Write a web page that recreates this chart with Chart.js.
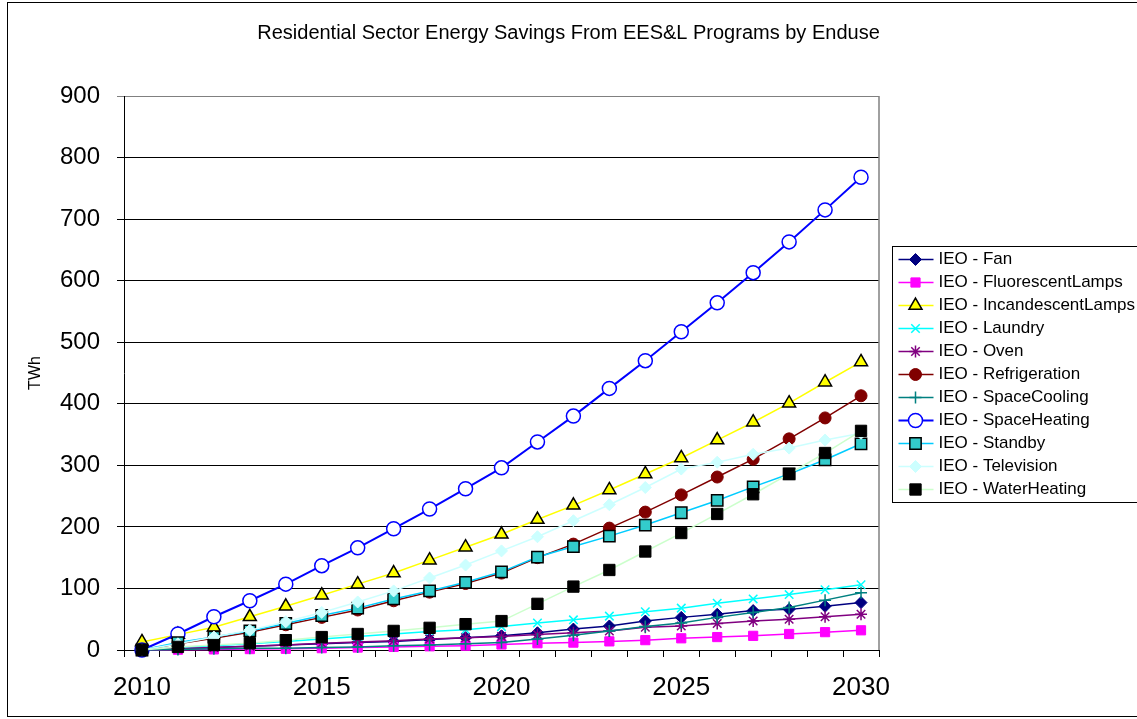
<!DOCTYPE html>
<html>
<head>
<meta charset="utf-8">
<title>Residential Sector Energy Savings</title>
<script src="https://cdn.jsdelivr.net/npm/chart.js@4.4.1/dist/chart.umd.min.js"></script>
<style>
  html, body { margin: 0; padding: 0; background: #fff; }
  #wrap { width: 1137px; height: 719px; overflow: hidden; }
</style>
</head>
<body>
<div id="wrap"><canvas id="chart" width="1137" height="719"></canvas></div>
<script>
// categories
const years = ['2010','2011','2012','2013','2014','2015','2016','2017','2018','2019','2020',
               '2021','2022','2023','2024','2025','2026','2027','2028','2029','2030'];
const yearLabels = ['2010','2015','2020','2025','2030'];
const yTicks = [0,100,200,300,400,500,600,700,800,900];

// savings per end use, TWh
const fan               = [0,2,4,6,8,10,12,14,17,20,23,28,34,39,47,53,58,64,66,71,77];
const fluorescentLamps  = [0,0.5,1,1.5,2,3,4,5,6,7,9,11,12,14,16,19,21,23,26,29,32];
const incandescentLamps = [13,25,37,54,71,89,107,125,146,167,188,212,235,260,286,312,341,370,401,435,468];
const laundry           = [0,4,7,10,14,18,22,26,30,33,38,44,49,55,62,68,76,83,90,98,106];
const oven              = [0,2,4,6,8,11,13,15,18,20,22,25,28,31,37,39,43,47,50,54,58];
const refrigeration     = [0,10,19,29,41,53,65,80,94,108,125,150,172,198,224,252,281,310,343,377,413];
const spaceCooling      = [0,1,2,3,3,4,5,7,8,10,12,18,24,31,38,44,53,61,69,81,93];
const spaceHeating      = [0,26,54,80,107,137,166,197,229,262,296,338,380,425,470,517,564,613,663,715,768];
const standby           = [0,12,21,31,43,56,68,83,96,110,127,151,168,185,203,223,243,265,286,309,335];
const television        = [0,10,21,32,46,61,78,96,117,138,161,184,210,236,264,294,305,318,328,341,352];
const waterHeating      = [0,5,8,11,16,21,26,31,36,42,47,75,103,130,160,190,221,253,286,320,356];

const FONT = '"Liberation Sans", Arial, sans-serif';

// line colour, marker shape, marker fill, marker edge, marker size
function series(label, data, line, shape, fill, edge, radius, edgeWidth) {
  return {
    label: label,
    data: data,
    borderColor: line,
    borderWidth: 1.5,
    pointStyle: shape,
    pointBackgroundColor: fill,
    pointBorderColor: edge,
    pointBorderWidth: edgeWidth,
    pointRadius: radius,
    pointHoverRadius: radius,
    tension: 0,
    clip: false
  };
}

const datasets = [
  series('IEO - Fan', fan, '#000080', 'rectRot', '#000080', '#000080', 6, 1),
  series('IEO - FluorescentLamps', fluorescentLamps, '#FF00FF', 'rect', '#FF00FF', '#FF00FF', 6.5, 1),
  series('IEO - IncandescentLamps', incandescentLamps, '#FFFF00', 'triangle', '#FFFF00', '#000000', 7.5, 1.5),
  series('IEO - Laundry', laundry, '#00FFFF', 'crossRot', '#00FFFF', '#00FFFF', 6, 1.5),
  series('IEO - Oven', oven, '#800080', 'star', '#800080', '#800080', 6, 1.5),
  series('IEO - Refrigeration', refrigeration, '#800000', 'circle', '#800000', '#800000', 6, 1),
  series('IEO - SpaceCooling', spaceCooling, '#008080', 'cross', '#008080', '#008080', 6, 1.5),
  series('IEO - SpaceHeating', spaceHeating, '#0000FF', 'circle', '#FFFFFF', '#0000FF', 7, 1.5),
  series('IEO - Standby', standby, '#00CCFF', 'rect', '#33CCCC', '#000000', 8, 1.5),
  series('IEO - Television', television, '#CCFFFF', 'rectRot', '#CCFFFF', '#CCFFFF', 6, 1),
  series('IEO - WaterHeating', waterHeating, '#CCFFCC', 'rect', '#000000', '#000000', 8, 1)
];
datasets[7].borderWidth = 2;
// later series sit on top of earlier ones
datasets.forEach((ds, i) => { ds.order = datasets.length - i; });

// outer frame and right edge of the plot area
const frame = {
  id: 'frame',
  beforeDraw(chart) {
    const ctx = chart.ctx;
    ctx.save();
    ctx.fillStyle = '#fff';
    ctx.fillRect(0, 0, chart.width, chart.height);
    ctx.strokeStyle = '#000';
    ctx.lineWidth = 1;
    ctx.strokeRect(7.5, 2.5, chart.width + 20, 714);
    ctx.restore();
  },
  beforeDatasetsDraw(chart) {
    const a = chart.chartArea, ctx = chart.ctx;
    ctx.save();
    ctx.strokeStyle = '#808080';
    ctx.lineWidth = 1.5;
    ctx.beginPath();
    ctx.moveTo(a.right, a.top);
    ctx.lineTo(a.right, a.bottom);
    ctx.stroke();
    ctx.restore();
  }
};

// boxed legend with a short line through each marker
const lineLegend = {
  id: 'lineLegend',
  afterDraw(chart) {
    const ctx = chart.ctx;
    const left = chart.chartArea.right + 13.5;
    const top = 246.5;
    const rowH = 23;
    ctx.save();
    ctx.strokeStyle = '#000';
    ctx.lineWidth = 1;
    ctx.strokeRect(left, top, 300, 256);
    ctx.font = '17px ' + FONT;
    ctx.textBaseline = 'middle';
    chart.data.datasets.forEach((ds, i) => {
      const y = top + 13 + i * rowH;
      ctx.strokeStyle = ds.borderColor;
      ctx.lineWidth = ds.borderWidth;
      ctx.beginPath();
      ctx.moveTo(left + 6, y);
      ctx.lineTo(left + 41, y);
      ctx.stroke();
      ctx.fillStyle = ds.pointBackgroundColor;
      ctx.strokeStyle = ds.pointBorderColor;
      ctx.lineWidth = ds.pointBorderWidth;
      Chart.helpers.drawPoint(ctx, {
        pointStyle: ds.pointStyle,
        radius: ds.pointRadius,
        borderWidth: ds.pointBorderWidth,
        rotation: 0
      }, left + 23, y);
      ctx.fillStyle = '#000';
      ctx.fillText(ds.label, left + 46, y);
    });
    ctx.restore();
  }
};

new Chart(document.getElementById('chart'), {
  type: 'line',
  data: { labels: years, datasets: datasets },
  plugins: [frame, lineLegend],
  options: {
    responsive: false,
    animation: false,
    devicePixelRatio: 1,
    layout: { padding: 0 },
    plugins: {
      legend: { display: false },
      tooltip: { enabled: false },
      title: {
        display: true,
        text: 'Residential Sector Energy Savings From EES&L Programs by Enduse',
        color: '#000',
        font: { family: FONT, size: 20, weight: 'normal' },
        padding: { top: 21, bottom: 51 }
      }
    },
    scales: {
      x: {
        type: 'category',
        offset: true,
        afterFit(s) { s.height = 69; },
        grid: { offset: true, drawOnChartArea: false, color: '#000', tickLength: 7 },
        border: { color: '#000', width: 1 },
        ticks: {
          autoSkip: false,
          maxRotation: 0,
          color: '#000',
          padding: 15,
          font: { family: FONT, size: 26 },
          callback(v, i) {
            const y = years[i];
            return yearLabels.includes(y) ? y : '';
          }
        }
      },
      y: {
        min: yTicks[0],
        max: yTicks[yTicks.length - 1],
        afterFit(s) { s.width = 124; },
        afterBuildTicks(s) { s.ticks = yTicks.map(v => ({ value: v })); },
        grid: {
          color: ctx => (ctx.tick && ctx.tick.value === 900 ? '#808080' : '#000'),
          tickLength: 7
        },
        border: { color: '#000', width: 1 },
        title: {
          display: true,
          text: 'TWh',
          color: '#000',
          font: { family: FONT, size: 16 },
          padding: { top: 26, bottom: 0 }
        },
        ticks: {
          color: '#000',
          padding: 17,
          font: { family: FONT, size: 24 }
        }
      },
      // empty strip on the right that holds the legend box
      legendSpace: {
        type: 'linear',
        position: 'right',
        afterFit(s) { s.width = 258; },
        grid: { display: false },
        border: { display: false },
        ticks: { display: false }
      }
    }
  }
});
</script>
</body>
</html>
